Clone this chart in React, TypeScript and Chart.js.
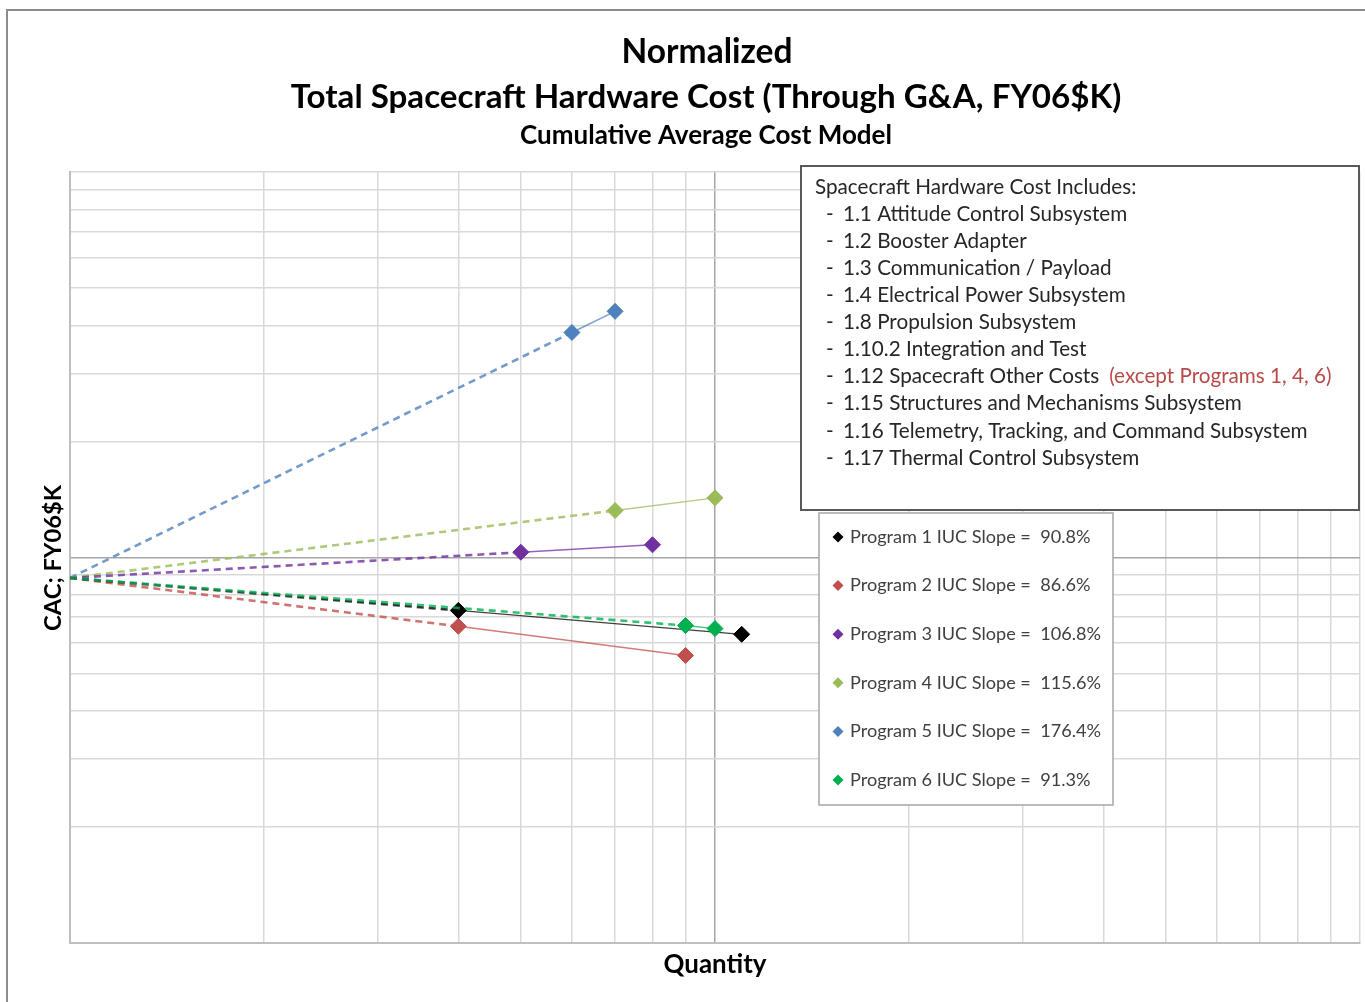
import React, { useEffect, useRef } from "react";
import { Chart, registerables } from "chart.js";

Chart.register(...registerables);

// ---------- data ----------
const titleLines = [
  "Normalized",
  "Total Spacecraft Hardware Cost (Through G&A, FY06$K)",
  "Cumulative Average Cost Model",
];
const xAxisTitle = "Quantity";
const yAxisTitle = "CAC; FY06$K";

const programNames = ["Program 1", "Program 2", "Program 3", "Program 4", "Program 5", "Program 6"];
const iucSlopes = ["90.8%", "86.6%", "106.8%", "115.6%", "176.4%", "91.3%"];
const programColors = ["#000000", "#c0504d", "#7030a0", "#9bbb59", "#4f81bd", "#00b050"];

const startQty = 1;
const startCAC = 0.885;

const p1Qty = [4, 11];
const p1CAC = [0.729, 0.632];
const p2Qty = [4, 9];
const p2CAC = [0.663, 0.557];
const p3Qty = [5, 8];
const p3CAC = [1.032, 1.079];
const p4Qty = [7, 10];
const p4CAC = [1.324, 1.428];
const p5Qty = [6, 7];
const p5CAC = [3.834, 4.35];
const p6Qty = [9, 10];
const p6CAC = [0.666, 0.654];

const xGridTicks = [1, 2, 3, 4, 5, 6, 7, 8, 9, 10, 20, 30, 40, 50, 60, 70, 80, 90, 100];
const yGridTicks = [0.1, 0.2, 0.3, 0.4, 0.5, 0.6, 0.7, 0.8, 0.9, 1, 2, 3, 4, 5, 6, 7, 8, 9, 10];

const includesHeader = "Spacecraft Hardware Cost Includes:";
const includesItems = [
  "1.1 Attitude Control Subsystem",
  "1.2 Booster Adapter",
  "1.3 Communication / Payload",
  "1.4 Electrical Power Subsystem",
  "1.8 Propulsion Subsystem",
  "1.10.2 Integration and Test",
  "1.12 Spacecraft Other Costs",
  "1.15 Structures and Mechanisms Subsystem",
  "1.16 Telemetry, Tracking, and Command Subsystem",
  "1.17 Thermal Control Subsystem",
];
const includesNote = "(except Programs 1, 4, 6)";
const includesNoteIndex = 6;

const allQty = [p1Qty, p2Qty, p3Qty, p4Qty, p5Qty, p6Qty];
const allCAC = [p1CAC, p2CAC, p3CAC, p4CAC, p5CAC, p6CAC];

const FAMILY = "Lato, 'Open Sans', 'DejaVu Sans', sans-serif";

function fitSize(ctx: CanvasRenderingContext2D, text: string, weight: string, target: number) {
  ctx.font = `${weight} 100px ${FAMILY}`;
  return (100 * target) / ctx.measureText(text).width;
}

function hexA(hex: string, a: number) {
  const r = parseInt(hex.slice(1, 3), 16);
  const g = parseInt(hex.slice(3, 5), 16);
  const b = parseInt(hex.slice(5, 7), 16);
  return `rgba(${r},${g},${b},${a})`;
}

const decorPlugin = {
  id: "decor",
  beforeDraw(chart: any) {
    const ctx = chart.ctx as CanvasRenderingContext2D;
    ctx.save();
    ctx.fillStyle = "#ffffff";
    ctx.fillRect(0, 0, chart.width, chart.height);
    // outer frame
    ctx.strokeStyle = "#8c8c8c";
    ctx.lineWidth = 2;
    ctx.beginPath();
    ctx.moveTo(7, chart.height + 2);
    ctx.lineTo(7, 10);
    ctx.lineTo(chart.width + 2, 10);
    ctx.stroke();
    ctx.restore();
  },
  afterDraw(chart: any) {
    const ctx = chart.ctx as CanvasRenderingContext2D;
    ctx.save();
    ctx.textBaseline = "middle";
    ctx.textAlign = "center";
    ctx.fillStyle = "#000000";

    // titles
    const tW = [171, 831, 372];
    const tY = [52, 97, 136];
    const tX = [707, 706, 706];
    titleLines.forEach((t, i) => {
      const s = fitSize(ctx, t, "bold", tW[i]);
      ctx.font = `bold ${s}px ${FAMILY}`;
      ctx.fillText(t, tX[i], tY[i]);
    });

    // axis titles
    let s = fitSize(ctx, xAxisTitle, "bold", 103);
    ctx.font = `bold ${s}px ${FAMILY}`;
    ctx.fillText(xAxisTitle, 715, 965);
    s = fitSize(ctx, yAxisTitle, "bold", 146);
    ctx.font = `bold ${s}px ${FAMILY}`;
    ctx.save();
    ctx.translate(53, 558);
    ctx.rotate(-Math.PI / 2);
    ctx.fillText(yAxisTitle, 0, 0);
    ctx.restore();

    // includes box
    ctx.fillStyle = "#ffffff";
    ctx.fillRect(801, 166, 558, 344);
    ctx.strokeStyle = "#595959";
    ctx.lineWidth = 2;
    ctx.strokeRect(801, 166, 558, 344);
    ctx.textAlign = "left";
    const bs = fitSize(ctx, includesItems[8], "normal", 465);
    ctx.font = `normal ${bs}px ${FAMILY}`;
    ctx.fillStyle = "#262626";
    const lh = 27.1;
    ctx.fillText(includesHeader, 815, 187);
    includesItems.forEach((it, i) => {
      const y = 187 + lh * (i + 1);
      ctx.fillStyle = "#262626";
      ctx.fillText("-", 826, y);
      ctx.fillText(it, 843, y);
      if (i === includesNoteIndex) {
        const w = ctx.measureText(it).width;
        ctx.fillStyle = "#b84a48";
        ctx.fillText(includesNote, 843 + w + 10, y);
      }
    });

    // legend box
    ctx.fillStyle = "#ffffff";
    ctx.fillRect(819, 513, 294, 292);
    ctx.strokeStyle = "#a6a6a6";
    ctx.lineWidth = 1.5;
    ctx.strokeRect(819, 513, 294, 292);
    const legTexts = programNames.map((n, i) => `${n} IUC Slope =  ${iucSlopes[i]}`);
    const ls = fitSize(ctx, legTexts[2], "normal", 251);
    ctx.font = `normal ${ls}px ${FAMILY}`;
    legTexts.forEach((t, i) => {
      const y = 537 + i * 48.6;
      ctx.fillStyle = programColors[i];
      ctx.beginPath();
      ctx.moveTo(838, y - 5.5);
      ctx.lineTo(843.5, y);
      ctx.lineTo(838, y + 5.5);
      ctx.lineTo(832.5, y);
      ctx.closePath();
      ctx.fill();
      ctx.fillStyle = "#404040";
      ctx.fillText(t, 850, y);
    });
    ctx.restore();
  },
};

export default function App() {
  const ref = useRef<HTMLCanvasElement>(null);
  useEffect(() => {
    if (!ref.current) return;
    const datasets = programNames.map((name, i) => {
      const color = programColors[i];
      const pts = [{ x: startQty, y: startCAC }].concat(
        allQty[i].map((q, k) => ({ x: q, y: allCAC[i][k] }))
      );
      return {
        label: name,
        data: pts,
        borderColor: color,
        backgroundColor: color,
        pointBackgroundColor: color,
        pointBorderColor: color,
        pointStyle: "rectRot",
        pointRadius: [0, 8, 8],
        pointBorderWidth: 1,
        showLine: true,
        order: i === 5 ? 0 : i + 1,
        segment: {
          borderDash: (c: any) => (c.p0DataIndex === 0 ? [7, 5] : []),
          borderWidth: (c: any) => (c.p0DataIndex === 0 ? 2.6 : 1.4),
          borderColor: (c: any) => (c.p0DataIndex === 0 ? hexA(color, 0.8) : hexA(color, 0.75)),
        },
      };
    });
    const chart = new Chart(ref.current, {
      type: "scatter",
      data: { datasets } as any,
      options: {
        animation: false,
        responsive: false,
        devicePixelRatio: 1,
        layout: { autoPadding: false, padding: { left: 70, top: 172, right: 5, bottom: 59 } },
        plugins: { legend: { display: false }, title: { display: false }, tooltip: { enabled: false } },
        scales: {
          x: {
            type: "logarithmic",
            min: 1,
            max: 100,
            ticks: { display: false },
            grid: {
              drawTicks: false,
              lineWidth: 1.5,
              color: (c: any) => (c.tick && c.tick.value === 10 ? "#a6a6a6" : "#d9d9d9"),
            },
            border: { display: true, color: "#bfbfbf", width: 2 },
            afterBuildTicks: (sc: any) => {
              sc.ticks = xGridTicks.map((v) => ({ value: v }));
            },
            afterFit: (sc: any) => {
              sc.height = 0;
            },
          },
          y: {
            type: "logarithmic",
            min: 0.1,
            max: 10,
            ticks: { display: false },
            grid: {
              drawTicks: false,
              lineWidth: 1.5,
              color: (c: any) => (c.tick && c.tick.value === 1 ? "#a6a6a6" : "#d9d9d9"),
            },
            border: { display: true, color: "#bfbfbf", width: 2 },
            afterBuildTicks: (sc: any) => {
              sc.ticks = yGridTicks.map((v) => ({ value: v }));
            },
            afterFit: (sc: any) => {
              sc.width = 0;
            },
          },
        },
      } as any,
      plugins: [decorPlugin],
    });
    return () => chart.destroy();
  }, []);
  return (
    <div style={{ position: "absolute", left: 0, top: 0, width: 1365, height: 1002 }}>
      <canvas ref={ref} width={1365} height={1002} style={{ display: "block" }} />
    </div>
  );
}
